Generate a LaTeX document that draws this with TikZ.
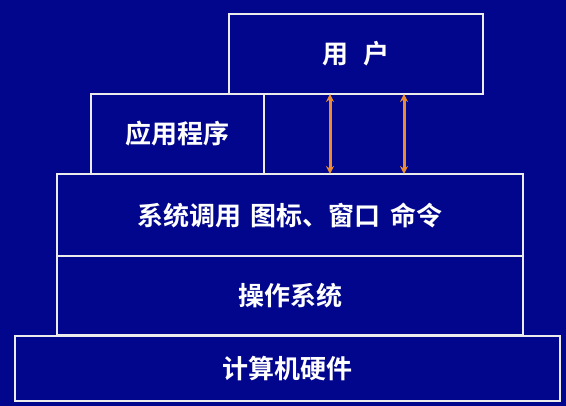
\documentclass[tikz,border=0pt]{standalone}
\usepackage{fontspec}
\setmainfont{Noto Sans CJK SC Bold}
\usetikzlibrary{arrows.meta}
\definecolor{navy}{RGB}{2,6,140}
\definecolor{arroworange}{RGB}{236,140,48}
\begin{document}
\begin{tikzpicture}[x=1pt,y=-1pt,
  layer/.style={draw=white!92!black,line width=1.3pt,rectangle,inner sep=0pt,outer sep=0pt,
    text=white,font=\fontsize{26}{26}\selectfont},
  link/.style={<->,>={Stealth[length=8pt,width=8pt]},draw=arroworange,line width=3pt}]
\useasboundingbox[fill=navy] (0,0) rectangle (566,406);
\node[layer,minimum width=254pt,minimum height=80pt] (U) at (356,54) {用\hspace{16pt}户};
\node[layer,minimum width=173pt,minimum height=80pt] (App) at (177.5,134) {应用程序};
\node[layer,minimum width=466pt,minimum height=82pt] (Sys) at (290,215) {系统调用\hspace{10pt}图标、窗口\hspace{10pt}命令};
\node[layer,minimum width=466pt,minimum height=79pt] (OS) at (290,295.5) {操作系统};
\node[layer,minimum width=545pt,minimum height=65pt] (HW) at (287.5,368.5) {计算机硬件};
\coordinate (A1) at (330,0);
\coordinate (A2) at (404,0);
\draw[link] (U.south -| A1) -- (Sys.north -| A1);
\draw[link] (U.south -| A2) -- (Sys.north -| A2);
\end{tikzpicture}
\end{document}
